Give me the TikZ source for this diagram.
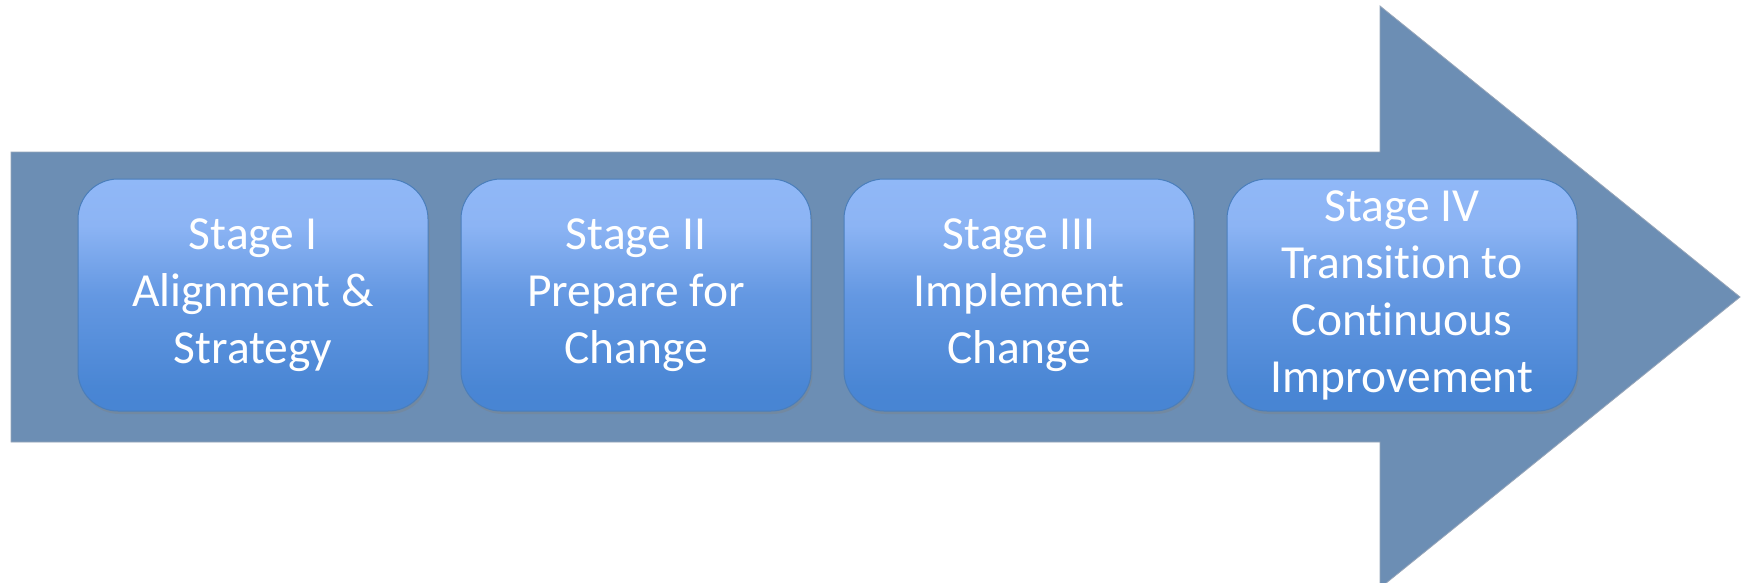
\documentclass[tikz,border=0pt]{standalone}
\usepackage{fontspec}
\setmainfont{Carlito}[Ligatures=NoCommon]
\usetikzlibrary{shadows}
\definecolor{arrowfill}{RGB}{108,142,180}
\definecolor{arrowedge}{RGB}{150,165,185}
\definecolor{boxtop}{RGB}{156,194,255}
\definecolor{boxmidA}{RGB}{140,180,244}
\definecolor{boxmidB}{RGB}{100,152,226}
\definecolor{boxbot}{RGB}{62,126,206}
\definecolor{boxedge}{RGB}{74,126,187}
\pgfdeclareverticalshading{boxshade}{100bp}{color(0bp)=(boxbot); color(30bp)=(boxbot!70!boxmidB); color(50bp)=(boxmidB); color(65bp)=(boxmidA); color(100bp)=(boxtop)}
\tikzset{
  bigarrow/.style={fill=arrowfill, draw=arrowedge, line width=0.8pt},
  stagebox/.style={shading=boxshade, draw=boxedge, line width=1pt,
    rounded corners=40pt, minimum width=350pt, minimum height=232pt,
    text=white, align=center, inner sep=0pt,
    font=\fontsize{47.5}{57}\selectfont,
    drop shadow={opacity=0.35, shadow xshift=1.5pt, shadow yshift=-3pt}}
}
\begin{document}
\begin{tikzpicture}[x=1pt,y=1pt]
\useasboundingbox (0,0) rectangle (1747,-583);
\clip (0,0) rectangle (1747,-583);
\fill[white] (0,0) rectangle (1747,-583);
\draw[bigarrow] (11,-152) -- (1380,-152) -- (1380,-6) -- (1740,-297) -- (1380,-588) -- (1380,-442) -- (11,-442) -- cycle;
\node[stagebox] (box1) at (253,-295) {Stage I\\Alignment \&\\Strategy};
\node[stagebox] (box2) at (636,-295) {Stage II\\Prepare for\\Change};
\node[stagebox] (box3) at (1019,-295) {Stage III\\Implement\\Change};
\node[stagebox] (box4) at (1402,-295) {Stage IV\\Transition to\\Continuous\\Improvement};
\end{tikzpicture}
\end{document}
